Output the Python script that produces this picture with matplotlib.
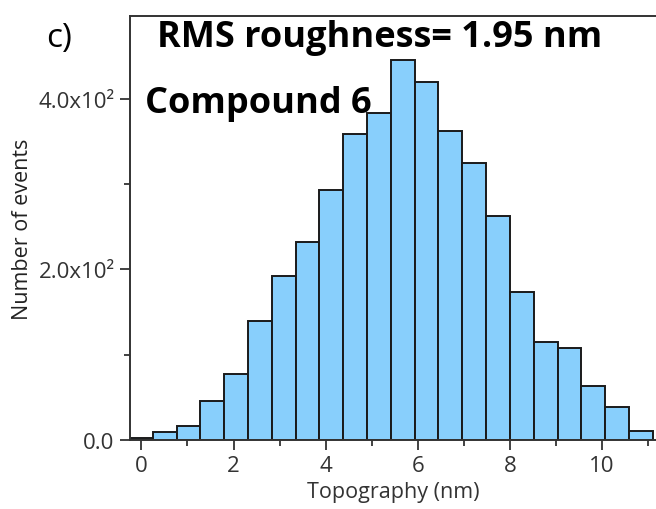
import numpy as np
import matplotlib
matplotlib.use('Agg')
import matplotlib.pyplot as plt
from matplotlib.ticker import FixedLocator

# histogram of topography heights
bin_edges = np.linspace(-0.27, 11.10, 23)
counts = [3, 9, 17, 46, 77, 139, 192, 232, 293, 359, 383,
          445, 420, 362, 325, 263, 174, 115, 108, 63, 39, 11]
yticks = [0, 200, 400]
ytick_labels = ['0.0', '2.0x10\u00b2', '4.0x10\u00b2']
xticks = [0, 2, 4, 6, 8, 10]

plt.rcParams['font.family'] = ['Open Sans', 'DejaVu Sans']

fig = plt.figure(figsize=(6.56, 5.10), dpi=100)
ax = fig.add_axes([0.198, 0.135, 0.802, 0.832])

widths = np.diff(bin_edges)
ax.bar(bin_edges[:-1], counts, width=widths, align='edge',
       color='#88CFFC', edgecolor='#1a1a1a', linewidth=1.4)

ax.set_xlim(-0.25, 11.17)
ax.set_ylim(0, 497)

for s in ['left', 'top', 'bottom']:
    ax.spines[s].set_linewidth(1.4)
    ax.spines[s].set_color('#333333')
ax.spines['right'].set_visible(False)

ax.set_xticks(xticks)
ax.xaxis.set_minor_locator(FixedLocator([1, 3, 5, 7, 9, 11]))
ax.set_yticks(yticks)
ax.set_yticklabels(ytick_labels)
ax.yaxis.set_minor_locator(FixedLocator([100, 300]))
ax.tick_params(which='major', direction='out', length=7, width=1.3,
               color='#333333', labelsize=16, labelcolor='#333333', pad=4)
ax.tick_params(which='minor', direction='out', length=4, width=1.3,
               color='#333333')

ax.set_xlabel('Topography (nm)', fontsize=15.5, color='#333333', labelpad=3)
ax.set_ylabel('Number of events', fontsize=15.5, color='#222222', labelpad=4)

fig.text(0.070, 0.907, 'c)', fontsize=24, color='black', va='baseline')
fig.text(0.240, 0.908, 'RMS roughness= 1.95 nm', fontsize=26,
         fontweight='bold', color='black', va='baseline')
fig.text(0.221, 0.778, 'Compound 6', fontsize=26,
         fontweight='bold', color='black', va='baseline')

fig.savefig('out.png', dpi=100)
